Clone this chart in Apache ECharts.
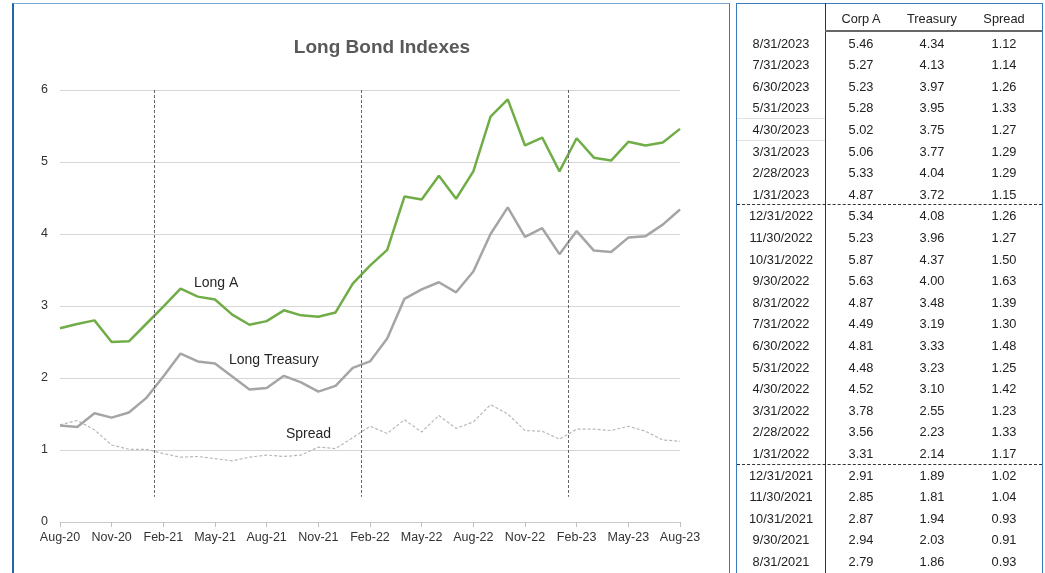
<!DOCTYPE html>
<html>
<head>
<meta charset="utf-8">
<title>Long Bond Indexes</title>
<script src="https://cdn.jsdelivr.net/npm/echarts@6/dist/echarts.min.js"></script>
<style>
  html, body { margin: 0; padding: 0; background: #fff; }
  body { width: 1045px; height: 573px; position: relative; overflow: hidden; font-family: Arial, "Liberation Sans", sans-serif; }
  #chart { position: absolute; left: 0; top: 0; width: 730px; height: 573px; }
  .frame { position: absolute; border: 1px solid #3a7bbd; box-sizing: border-box; }
  #leftFrame { left: 12px; top: 3px; width: 718px; height: 600px; border-left: 2px solid #1f66aa; border-top-color: #7aa6d2; }
  #tableFrame { left: 736px; top: 3px; width: 307px; height: 600px; }
  .cell { position: absolute; text-align: center; font-size: 12.8px; color: #222; height: 21.6px; line-height: 21.6px; white-space: nowrap; }
  .hline { position: absolute; height: 0; }
</style>
</head>
<body>
<div id="chart"></div>
<div id="leftFrame" class="frame"></div>
<div id="tableFrame" class="frame"></div>
<div id="tbl"></div>

<script>
// monthly, Aug-20 .. Aug-23
const months = ['Aug-20','Sep-20','Oct-20','Nov-20','Dec-20','Jan-21','Feb-21','Mar-21','Apr-21','May-21','Jun-21','Jul-21',
  'Aug-21','Sep-21','Oct-21','Nov-21','Dec-21','Jan-22','Feb-22','Mar-22','Apr-22','May-22','Jun-22','Jul-22',
  'Aug-22','Sep-22','Oct-22','Nov-22','Dec-22','Jan-23','Feb-23','Mar-23','Apr-23','May-23','Jun-23','Jul-23','Aug-23'];

const longA = [2.69, 2.75, 2.80, 2.50, 2.51, 2.75, 2.99, 3.24, 3.13, 3.09, 2.88, 2.74,
  2.79, 2.94, 2.87, 2.85, 2.91, 3.31, 3.56, 3.78, 4.52, 4.48, 4.81, 4.49,
  4.87, 5.63, 5.87, 5.23, 5.34, 4.87, 5.33, 5.06, 5.02, 5.28, 5.23, 5.27, 5.46];

const longTreasury = [1.34, 1.32, 1.51, 1.45, 1.52, 1.72, 2.02, 2.34, 2.23, 2.20, 2.02, 1.84,
  1.86, 2.03, 1.94, 1.81, 1.89, 2.14, 2.23, 2.55, 3.10, 3.23, 3.33, 3.19,
  3.48, 4.00, 4.37, 3.96, 4.08, 3.72, 4.04, 3.77, 3.75, 3.95, 3.97, 4.13, 4.34];

const spread = [1.35, 1.41, 1.28, 1.07, 1.01, 1.01, 0.95, 0.90, 0.91, 0.88, 0.85, 0.90,
  0.93, 0.91, 0.93, 1.04, 1.02, 1.17, 1.33, 1.23, 1.42, 1.25, 1.48, 1.30,
  1.39, 1.63, 1.50, 1.27, 1.26, 1.15, 1.29, 1.29, 1.27, 1.33, 1.26, 1.14, 1.12];

// table rows, newest first (last 25 months)
const tableDates = ['8/31/2023','7/31/2023','6/30/2023','5/31/2023','4/30/2023','3/31/2023','2/28/2023','1/31/2023',
  '12/31/2022','11/30/2022','10/31/2022','9/30/2022','8/31/2022','7/31/2022','6/30/2022','5/31/2022','4/30/2022',
  '3/31/2022','2/28/2022','1/31/2022','12/31/2021','11/30/2021','10/31/2021','9/30/2021','8/31/2021'];
const tableHeaders = ['Corp A', 'Treasury', 'Spread'];

// year boundaries (between Jan and Feb)
const yearMarks = [5.5, 17.5, 29.5];

const toPairs = arr => arr.map((v, i) => [i, v]);

const chart = echarts.init(document.getElementById('chart'));

const option = {
  animation: false,
  title: {
    text: 'Long Bond Indexes',
    left: 377,
    top: 33,
    textAlign: 'center',
    textStyle: { fontFamily: 'Arial', fontSize: 19, fontWeight: 'bold', color: '#595959' }
  },
  grid: { left: 60, right: 50, top: 90, bottom: 51 },
  xAxis: {
    type: 'value',
    min: 0,
    max: months.length - 1,
    interval: 3,
    axisLine: { show: true, lineStyle: { color: '#c8c8c8', type: 'dotted' } },
    axisTick: { show: true, length: 5, lineStyle: { color: '#c0c0c0' } },
    splitLine: { show: false },
    axisLabel: {
      formatter: v => months[v] || '',
      color: '#333', fontFamily: 'Arial', fontSize: 12.5, margin: 9,
      showMinLabel: true, showMaxLabel: true
    }
  },
  yAxis: {
    type: 'value',
    min: 0,
    max: 6,
    interval: 1,
    axisLine: { show: false },
    axisTick: { show: false },
    splitLine: { lineStyle: { color: '#d6d6d6', width: 1 } },
    axisLabel: { color: '#333', fontFamily: 'Arial', fontSize: 12.5, margin: 12 }
  },
  series: [
    {
      name: 'Long A', type: 'line', data: toPairs(longA), showSymbol: false,
      lineStyle: { color: '#70ad47', width: 2.5 }, z: 4
    },
    {
      name: 'Long Treasury', type: 'line', data: toPairs(longTreasury), showSymbol: false,
      lineStyle: { color: '#a5a5a5', width: 2.5 }, z: 3
    },
    {
      name: 'Spread', type: 'line', data: toPairs(spread), showSymbol: false,
      lineStyle: { color: '#b8b8b8', width: 1.2, type: [3, 2] }, z: 2,
      markLine: {
        silent: true,
        symbol: 'none',
        label: { show: false },
        lineStyle: { color: '#666', width: 1, type: [3, 2] },
        data: yearMarks.map(x => [{ coord: [x, 6] }, { coord: [x, 0.35] }])
      }
    }
  ],
  graphic: [
    { type: 'text', left: 194, top: 276, style: { text: 'Long A', font: '14px Arial', fill: '#262626' } },
    { type: 'text', left: 229, top: 353, style: { text: 'Long Treasury', font: '14px Arial', fill: '#262626' } },
    { type: 'text', left: 286, top: 427, style: { text: 'Spread', font: '14px Arial', fill: '#262626' } }
  ]
};
chart.setOption(option);

// table on the right
const tbl = document.getElementById('tbl');
const colCenters = [781, 861, 932, 1004];
const colWidth = 80;
const rowTop0 = 32.5, rowH = 21.6;

function addCell(text, cx, top) {
  const d = document.createElement('div');
  d.className = 'cell';
  d.style.left = (cx - colWidth / 2) + 'px';
  d.style.width = colWidth + 'px';
  d.style.top = top + 'px';
  d.textContent = text;
  tbl.appendChild(d);
}
function addLine(x1, x2, y, style) {
  const d = document.createElement('div');
  d.className = 'hline';
  d.style.left = x1 + 'px';
  d.style.width = (x2 - x1) + 'px';
  d.style.top = y + 'px';
  d.style.borderTop = style;
  tbl.appendChild(d);
}

tableHeaders.forEach((h, j) => addCell(h, colCenters[j + 1], 7.5));

const n = months.length;
tableDates.forEach((dt, i) => {
  const k = n - 1 - i;
  const top = rowTop0 + i * rowH;
  addCell(dt, colCenters[0], top);
  addCell(longA[k].toFixed(2), colCenters[1], top);
  addCell(longTreasury[k].toFixed(2), colCenters[2], top);
  addCell(spread[k].toFixed(2), colCenters[3], top);
});

// divider and rules
const vdiv = document.createElement('div');
vdiv.style.cssText = 'position:absolute;left:825px;top:3px;width:0;height:580px;border-left:1px solid #333;';
tbl.appendChild(vdiv);
addLine(825, 1042, 30, '2px solid #666');
addLine(737, 825, rowTop0 + 4 * rowH - 1, '1px solid #e0e0e0');
addLine(737, 825, rowTop0 + 5 * rowH - 1, '1px solid #e0e0e0');
addLine(737, 1042, rowTop0 + 8 * rowH - 1, '1px dashed #333');
addLine(737, 1042, rowTop0 + 20 * rowH - 1, '1px dashed #333');
</script>
</body>
</html>
